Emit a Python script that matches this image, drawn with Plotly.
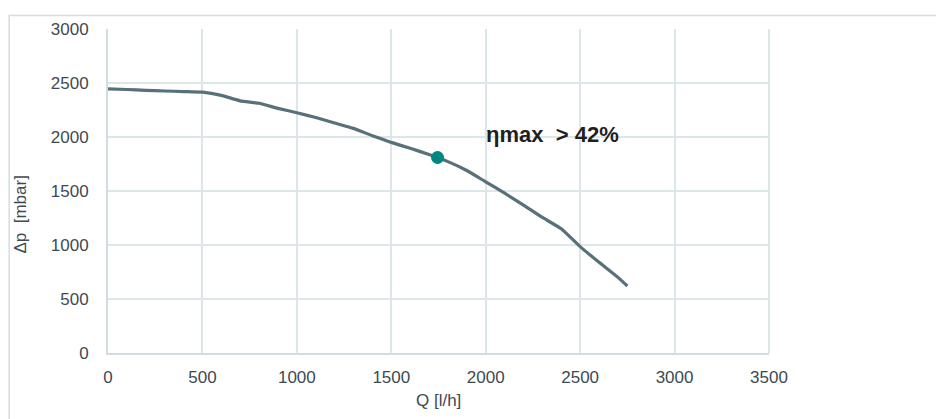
import plotly.graph_objects as go

Q = [0, 100, 200, 300, 400, 500, 600, 700, 800, 900, 1000, 1100, 1200, 1300, 1400,
     1500, 1600, 1700, 1800, 1900, 2000, 2100, 2200, 2300, 2400, 2500, 2600, 2700, 2750]
dp = [2445, 2440, 2432, 2426, 2421, 2415, 2385, 2335, 2312, 2265, 2225, 2180, 2130, 2080, 2012,
      1950, 1895, 1838, 1772, 1690, 1585, 1480, 1370, 1255, 1150, 985, 840, 700, 620]
eta_Q = [1745]
eta_dp = [1810]
eta_label = "ηmax\u00a0 > 42%"
x_title = "Q [l/h]"
y_title = "Δp\u00a0 [mbar]"

fig = go.Figure()
fig.add_trace(go.Scatter(x=Q, y=dp, mode="lines",
                         line=dict(color="#57707a", width=3.2, shape="spline", smoothing=0.4),
                         hoverinfo="x+y", showlegend=False))
fig.add_trace(go.Scatter(x=eta_Q, y=eta_dp, mode="markers",
                         marker=dict(color="#00877f", size=13, symbol="circle"),
                         showlegend=False))

font = "Liberation Sans, Arial, sans-serif"
tick_color = "#3d4a52"
grid = "#dde7ea"

fig.update_layout(
    width=936, height=411,
    margin=dict(l=100, r=175, t=15, b=66),
    paper_bgcolor="white", plot_bgcolor="white",
    font=dict(family=font, size=17, color=tick_color),
    xaxis=dict(range=[0, 3500], dtick=500, showgrid=True, gridcolor=grid, gridwidth=1.5,
               zeroline=False, showline=True, linecolor="#cfdde1", linewidth=2,
               ticks="", ticklabelstandoff=8, tickfont=dict(size=17, color=tick_color),
               fixedrange=True),
    yaxis=dict(range=[0, 3000], dtick=500, showgrid=True, gridcolor=grid, gridwidth=1.5,
               zeroline=False, showline=True, linecolor="#cfdde1", linewidth=2,
               ticks="", ticklabelstandoff=14, tickfont=dict(size=17, color=tick_color),
               fixedrange=True),
    shapes=[dict(type="rect", xref="paper", yref="paper",
                 x0=-0.1495, x1=1.4, y0=-0.4, y1=1.042,
                 line=dict(color="#d6dde0", width=1.5), fillcolor="rgba(0,0,0,0)", layer="below"),
            dict(type="line", xref="paper", yref="paper", x0=1, x1=1, y0=0, y1=1,
                 line=dict(color=grid, width=2))],
    annotations=[
        dict(text=eta_label, x=2351, y=2027, xref="x", yref="y", showarrow=False,
             xanchor="center", yanchor="middle",
             font=dict(size=22, color="#1f1f1f", family=font, weight="bold")),
        dict(text=x_title, x=0.5, y=(353 - 401) / 330, xref="paper", yref="paper", showarrow=False,
             xanchor="center", yanchor="middle", font=dict(size=17, color=tick_color)),
        dict(text=y_title, x=(21 - 108) / 661, y=(353 - 212) / 330, xref="paper", yref="paper",
             xanchor="center", yanchor="middle",
             showarrow=False, textangle=-90, font=dict(size=17, color=tick_color)),
    ],
)

fig.write_html("out.html")
